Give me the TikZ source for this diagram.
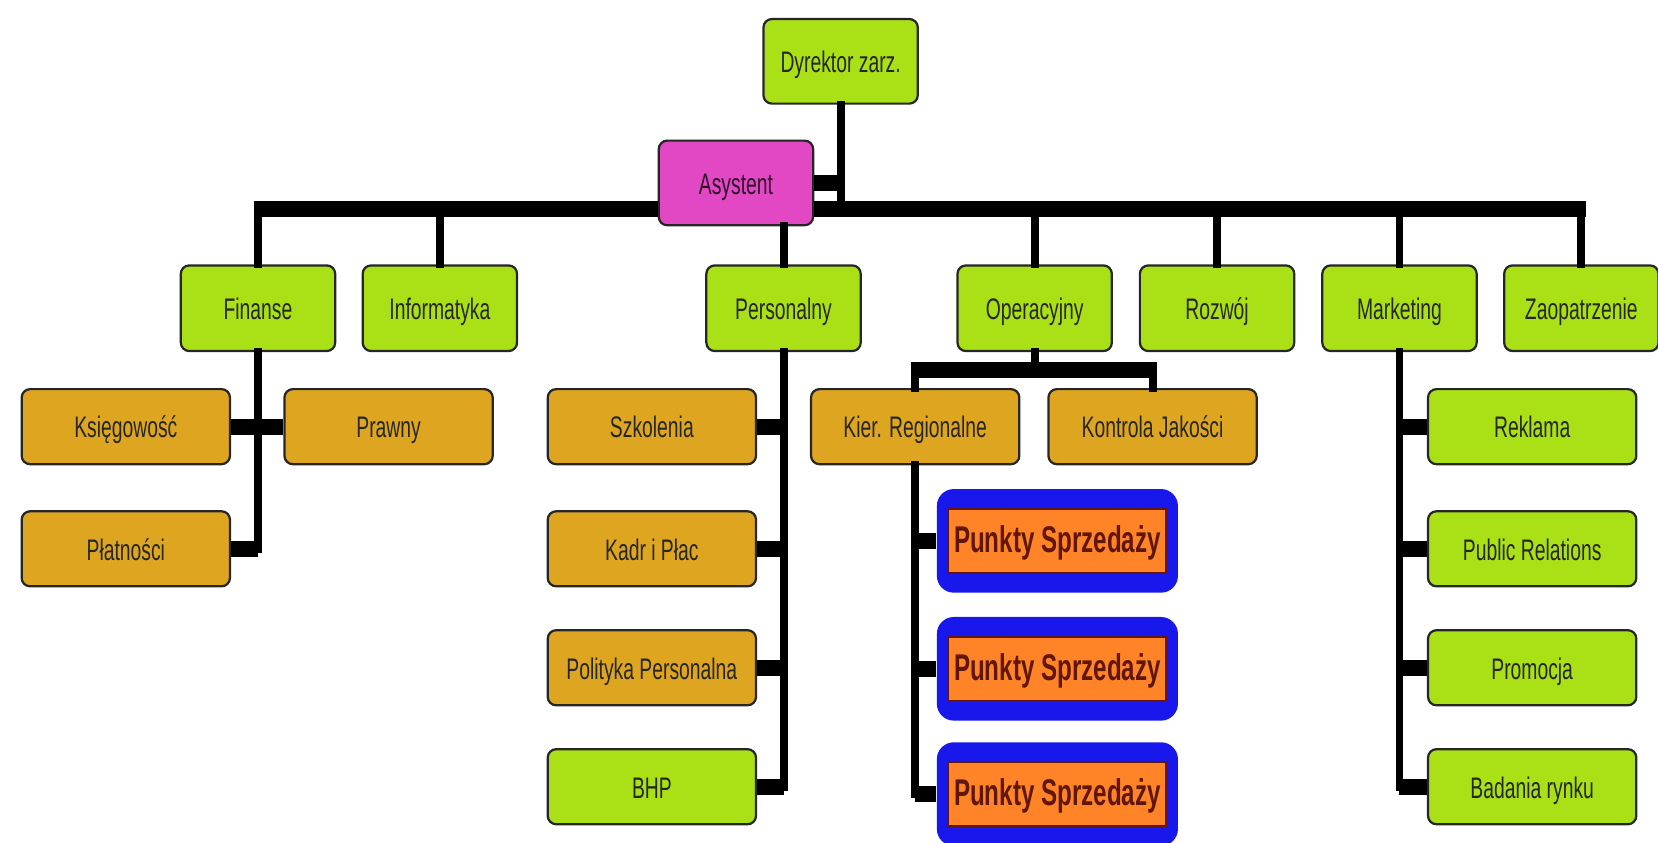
\documentclass[tikz,border=0pt]{standalone}
\usepackage{fontspec}
\setmainfont{Liberation Sans}[FakeStretch=0.65]
\definecolor{boxgreen}{RGB}{170, 224, 22}
\definecolor{boxgold}{RGB}{222, 166, 32}
\definecolor{boxpink}{RGB}{226, 72, 196}
\definecolor{boxorange}{RGB}{255, 132, 40}
\definecolor{boxblue}{RGB}{24, 24, 236}
\definecolor{textred}{RGB}{96, 22, 10}
\tikzstyle{head} = [rectangle, draw=black!85, line width=0.6pt, fill=boxgreen, text=black!85,
    rounded corners=0.08cm, font=\fontsize{8}{9}\selectfont, text height=1.6ex, text depth=0.45ex,
    minimum width=1.46cm, minimum height=0.80cm]
\tikzstyle{dept} = [head, minimum height=0.81cm]
\tikzstyle{assist} = [head, fill=boxpink, text=black!80!boxpink]
\tikzstyle{section} = [head, fill=boxgold, minimum width=1.97cm, minimum height=0.71cm]
\tikzstyle{subunit} = [section, fill=boxgreen]
\tikzstyle{outlet} = [rectangle, fill=boxblue, rounded corners=0.16cm, text=textred,
    font=\fontsize{10}{11}\selectfont\bfseries, text height=1.6ex, text depth=0.45ex,
    minimum width=2.28cm, minimum height=0.98cm,
    path picture={\draw [sharp corners, fill=boxorange, draw=textred, line width=0.5pt]
      ([xshift=0.11cm, yshift=0.19cm]path picture bounding box.south west) rectangle
      ([xshift=-0.11cm, yshift=-0.19cm]path picture bounding box.north east);}]
\tikzstyle{line} = [draw, line width=0.075cm, line cap=rect]
\tikzstyle{thickline} = [draw, line width=0.15cm]

\begin{document}
\begin{tikzpicture}[node distance = 3cm, auto]
  \useasboundingbox (-7.95,0.58) rectangle (7.73,-7.39);
  \node [head] (dyrektor) {Dyrektor zarz.};
  \node [assist, below of=dyrektor, node distance=1.15cm, xshift=-0.99cm] (asystent) {Asystent};
  \coordinate [below of=dyrektor, node distance=1.40cm] (bar);
  \node [dept, below of=dyrektor, node distance=2.335cm, xshift=-5.51cm] (finanse) {Finanse};
  \node [dept, right of=finanse, node distance=1.72cm] (informatyka) {Informatyka};
  \node [dept, right of=informatyka, node distance=3.25cm] (personalny) {Personalny};
  \node [dept, right of=personalny, node distance=2.375cm] (operacyjny) {Operacyjny};
  \node [dept, right of=operacyjny, node distance=1.725cm] (rozwoj) {Rozwój};
  \node [dept, right of=rozwoj, node distance=1.725cm] (marketing) {Marketing};
  \node [dept, right of=marketing, node distance=1.72cm] (zaopatrzenie) {Zaopatrzenie};
  \path [thickline] ([xshift=-0.04cm]finanse |- bar) -- (asystent.west |- bar);
  \path [thickline] (asystent.east |- bar) -- ([xshift=0.04cm]zaopatrzenie |- bar);
  \path [line] (dyrektor) -- (bar);
  \path [thickline] (asystent) -- (asystent -| dyrektor);
  \path [line] (finanse) -- (finanse |- bar);
  \path [line] (informatyka) -- (informatyka |- bar);
  \path [line] (personalny) -- (asystent.south -| personalny);
  \path [line] (operacyjny) -- (operacyjny |- bar);
  \path [line] (rozwoj) -- (rozwoj |- bar);
  \path [line] (marketing) -- (marketing |- bar);
  \path [line] (zaopatrzenie) -- (zaopatrzenie |- bar);
  \node [section, below of=finanse, node distance=1.12cm, xshift=-1.25cm] (ksiegowosc) {Księgowość};
  \node [section, right of=ksiegowosc, node distance=2.485cm] (prawny) {Prawny};
  \node [section, below of=ksiegowosc, node distance=1.155cm] (platnosci) {Płatności};
  \path [line] (finanse) -- (finanse |- platnosci);
  \path [thickline] (ksiegowosc) -- (prawny);
  \path [thickline] (platnosci) -- (platnosci -| finanse);
  \node [section, below of=personalny, node distance=1.12cm, xshift=-1.245cm] (szkolenia) {Szkolenia};
  \node [section, below of=szkolenia, node distance=1.155cm] (kadry) {Kadr i Płac};
  \node [section, below of=kadry, node distance=1.125cm] (polityka) {Polityka Personalna};
  \node [subunit, below of=polityka, node distance=1.125cm] (bhp) {BHP};
  \path [line] (personalny) -- (personalny |- bhp);
  \path [thickline] (szkolenia) -- (szkolenia -| personalny);
  \path [thickline] (kadry) -- (kadry -| personalny);
  \path [thickline] (polityka) -- (polityka -| personalny);
  \path [thickline] (bhp) -- (bhp -| personalny);
  \node [section, below of=operacyjny, node distance=1.12cm, xshift=-1.13cm] (kier) {Kier. Regionalne};
  \node [section, right of=kier, node distance=2.245cm] (kontrola) {Kontrola Jakości};
  \coordinate [below of=operacyjny, node distance=0.585cm] (opbar);
  \path [line] (operacyjny) -- (opbar);
  \path [thickline] ([xshift=-0.04cm]kier |- opbar) -- ([xshift=0.04cm]kontrola |- opbar);
  \path [line] (kier |- opbar) -- (kier);
  \path [line] (kontrola |- opbar) -- (kontrola);
  \node [outlet, below of=kier, node distance=1.08cm, xshift=1.345cm] (punkty1) {Punkty Sprzedaży};
  \node [outlet, below of=punkty1, node distance=1.21cm] (punkty2) {Punkty Sprzedaży};
  \node [outlet, below of=punkty2, node distance=1.185cm] (punkty3) {Punkty Sprzedaży};
  \path [line] (kier) -- (kier |- punkty3);
  \path [thickline] (punkty1) -- (punkty1 -| kier);
  \path [thickline] (punkty2) -- (punkty2 -| kier);
  \path [thickline] (punkty3) -- (punkty3 -| kier);
  \node [subunit, below of=marketing, node distance=1.12cm, xshift=1.255cm] (reklama) {Reklama};
  \node [subunit, below of=reklama, node distance=1.155cm] (relations) {Public Relations};
  \node [subunit, below of=relations, node distance=1.125cm] (promocja) {Promocja};
  \node [subunit, below of=promocja, node distance=1.125cm] (badania) {Badania rynku};
  \path [line] (marketing) -- (marketing |- badania);
  \path [thickline] (reklama) -- (reklama -| marketing);
  \path [thickline] (relations) -- (relations -| marketing);
  \path [thickline] (promocja) -- (promocja -| marketing);
  \path [thickline] (badania) -- (badania -| marketing);
\end{tikzpicture}
\end{document}
